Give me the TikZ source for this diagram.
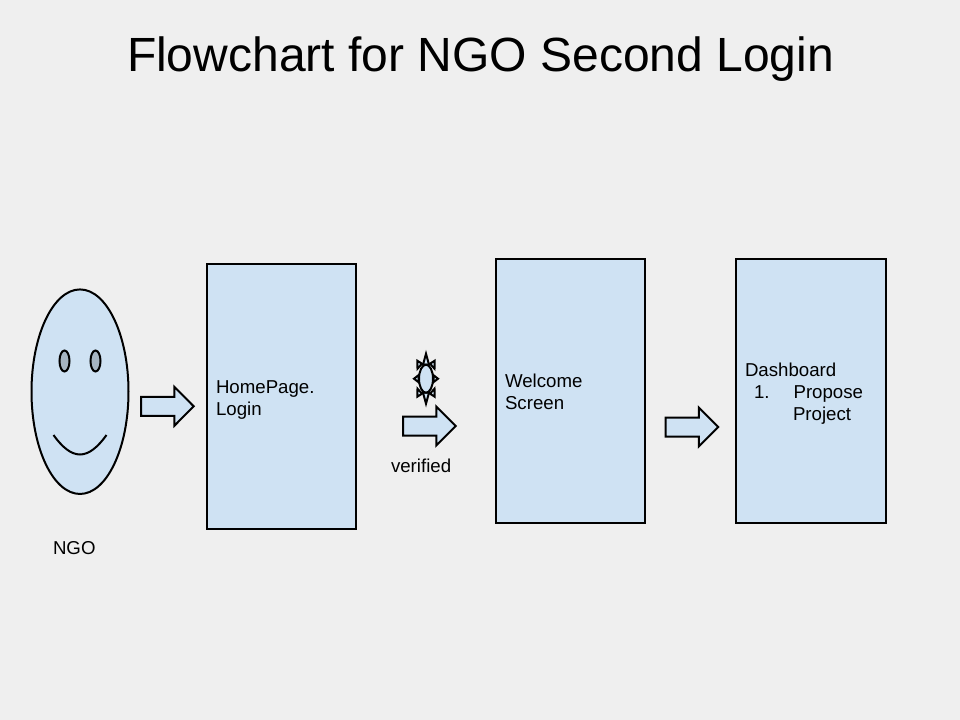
\documentclass[tikz,border=0pt]{standalone}
\usepackage{fontspec}
\usetikzlibrary{shapes.geometric,calc}
\setmainfont{Liberation Sans}
\definecolor{bg}{HTML}{EFEFEF}
\definecolor{fillblue}{HTML}{CFE2F3}
\definecolor{eyefill}{HTML}{A6B5C2}
\newcommand{\blockarrow}[2]{% left x, centre y
  \draw[shapestyle] (#1,#2-9.5) -- (#1+33.3,#2-9.5) -- (#1+33.3,#2-19.5) -- (#1+52.7,#2) -- (#1+33.3,#2+19.5) -- (#1+33.3,#2+9.5) -- (#1,#2+9.5) -- cycle;
}
\newcommand{\sunspike}[6]{% base, tip, base offsets from the sun's centre
  \draw[spike] ($(suncentre)+(#1,#2)$) -- ($(suncentre)+(#3,#4)$) -- ($(suncentre)+(#5,#6)$) -- cycle;
}
\tikzset{
  x=0.75pt,y=-0.75pt,
  shapestyle/.style={draw=black,fill=fillblue,line width=1.5pt,line join=miter},
  labeltext/.style={font=\fontsize{14pt}{16.5pt}\selectfont,text=black,inner sep=0pt,outer sep=0pt,align=left},
  spike/.style={draw=black,fill=fillblue,line width=1.5pt,line join=miter},
  screen/.style={shapestyle,labeltext,minimum width=111.75pt,text width=98.25pt,inner xsep=7pt,inner ysep=0pt},
  oval/.style={shapestyle,ellipse,inner sep=0pt,outer sep=0pt}
}
\begin{document}
\begin{tikzpicture}
\useasboundingbox (0,0) rectangle (960,720);
\fill[bg] (0,0) rectangle (960,720);
\node[inner sep=0pt,anchor=base,font=\fontsize{36pt}{42pt}\selectfont] (title) at (480.5,72) {Flowchart for NGO Second Login};
% face
\node[oval,minimum width=72.75pt,minimum height=153.4pt] (face) at (80,391.7) {};
\node[oval,fill=eyefill,minimum width=7.5pt,minimum height=15.75pt] (eyeL) at (64.5,361) {};
\node[oval,fill=eyefill,minimum width=7.5pt,minimum height=15.75pt] (eyeR) at (95.5,361) {};
\draw[black,line width=1.5pt] (53.5,435) .. controls (62,447) and (71,454.5) .. (80,454.5) .. controls (89,454.5) and (98,447) .. (106.5,435);
\node[labeltext,anchor=base west] (ngo) at (53,554) {NGO};
% screens
\node[screen,minimum height=198.75pt] (home) at (281.5,396.5) {\rule{0pt}{15pt}HomePage.\\Login};
\node[screen,minimum height=198pt] (welcome) at (570.5,391) {\rule{0pt}{11pt}Welcome\\Screen};
\node[screen,minimum width=112.5pt,text width=99pt,minimum height=198pt] (dash) at (811,391) {\rule{0pt}{13.75pt}Dashboard\\\hspace*{6.75pt}1.\hspace*{18pt}Propose\\\hspace*{36pt}Project};
% arrows
\blockarrow{141}{406.3}
\blockarrow{403}{426}
\blockarrow{665.5}{427}
% sun
\coordinate (suncentre) at (426,378.7);
\sunspike{-3}{-14}{0}{-25}{3}{-14}
\sunspike{-3}{14}{0}{25}{3}{14}
\sunspike{7.5}{-3.5}{12}{0}{7.5}{3.5}
\sunspike{-7.5}{-3.5}{-12}{0}{-7.5}{3.5}
\sunspike{4}{-15}{8.7}{-18}{8.5}{-10}
\sunspike{-4}{-15}{-8.7}{-18}{-8.5}{-10}
\sunspike{4}{15}{8.7}{18}{8.5}{10}
\sunspike{-4}{15}{-8.7}{18}{-8.5}{10}
\node[oval,minimum width=10.5pt,minimum height=21pt] (sun) at (suncentre) {};
\node[labeltext,anchor=base west] (verified) at (391,472) {verified};
\end{tikzpicture}
\end{document}
